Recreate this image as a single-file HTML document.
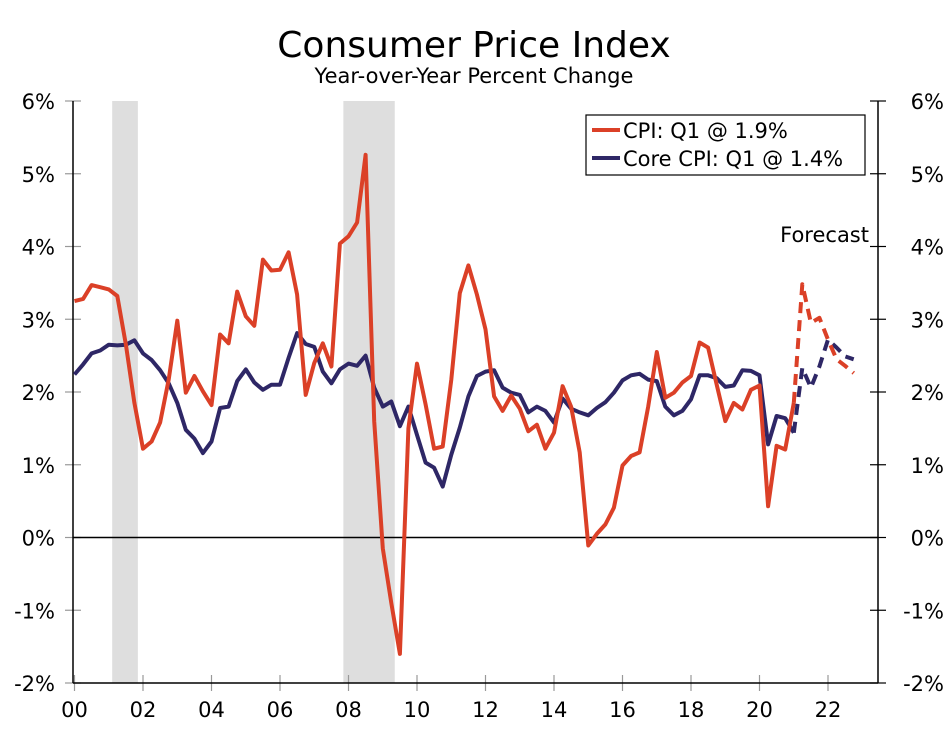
<!DOCTYPE html>
<html><head><meta charset="utf-8"><style>
body{margin:0;background:#fff;}
svg text{font-family:"DejaVu Sans","Liberation Sans",sans-serif;fill:#000;}
</style></head><body>
<svg width="947" height="726" xmlns="http://www.w3.org/2000/svg" id="chart">
<text x="474" y="57" font-size="36" text-anchor="middle">Consumer Price Index</text>
<text x="474" y="83" font-size="21" text-anchor="middle">Year-over-Year Percent Change</text>
<g id="rec"></g>
<g id="axes"></g>
<g id="lines"></g>
<g>
<rect x="586" y="115" width="279" height="60" fill="#fff" stroke="#000" stroke-width="1.2"/>
<line x1="592" y1="130" x2="620" y2="130" stroke="#db4027" stroke-width="4"/>
<text x="623" y="138" font-size="21">CPI: Q1 @ 1.9%</text>
<line x1="592" y1="158" x2="620" y2="158" stroke="#2e2766" stroke-width="4"/>
<text x="623" y="166" font-size="21">Core CPI: Q1 @ 1.4%</text>
</g>
<text x="869" y="242" font-size="21" text-anchor="end">Forecast</text>
</svg>
<script>
const cpi=[3.25,3.28,3.47,3.44,3.41,3.32,2.65,1.85,1.22,1.32,1.58,2.17,2.98,1.99,2.22,2.01,1.82,2.79,2.67,3.38,3.04,2.91,3.82,3.67,3.68,3.92,3.34,1.96,2.40,2.67,2.35,4.04,4.14,4.33,5.26,1.6,-0.15,-0.9,-1.6,1.5,2.39,1.83,1.22,1.25,2.17,3.36,3.74,3.34,2.86,1.94,1.74,1.95,1.77,1.46,1.55,1.22,1.44,2.08,1.80,1.17,-0.11,0.05,0.18,0.41,0.99,1.12,1.17,1.80,2.55,1.92,1.99,2.13,2.22,2.68,2.61,2.10,1.60,1.85,1.76,2.03,2.09,0.43,1.26,1.21,1.85];
const cpiFc=[1.85,3.48,2.95,3.02,2.72,2.45,2.36,2.26];
const core=[2.24,2.38,2.53,2.57,2.65,2.64,2.65,2.71,2.53,2.44,2.30,2.12,1.85,1.48,1.36,1.16,1.32,1.78,1.80,2.15,2.31,2.13,2.03,2.10,2.10,2.47,2.81,2.66,2.62,2.28,2.12,2.31,2.39,2.36,2.50,2.06,1.80,1.87,1.53,1.80,1.41,1.03,0.96,0.70,1.14,1.51,1.94,2.22,2.28,2.30,2.06,1.99,1.96,1.72,1.80,1.74,1.58,1.91,1.77,1.72,1.68,1.78,1.86,1.99,2.16,2.23,2.25,2.17,2.15,1.80,1.68,1.74,1.90,2.23,2.23,2.19,2.07,2.09,2.30,2.29,2.23,1.28,1.67,1.64,1.44];
const coreFc=[1.44,2.33,2.06,2.35,2.72,2.61,2.49,2.45];
const yTicks=[6,5,4,3,2,1,0,-1,-2];
const xLabels=["00","02","04","06","08","10","12","14","16","18","20","22"];
const recessions=[[2001.1,2001.85],[2007.85,2009.35]];
const NS="http://www.w3.org/2000/svg";
const X0=74.5,YR=34.25,L=73,R=878,T=101,B=683;
const xs=t=>X0+(t-2000)*YR;
const ys=v=>T+(6-v)*(B-T)/8;
const qx=i=>xs(2000+i*0.25);
function mk(tag,attrs,parent){const e=document.createElementNS(NS,tag);for(const k in attrs)e.setAttribute(k,attrs[k]);parent.appendChild(e);return e;}
const rec=document.getElementById('rec'),ax=document.getElementById('axes'),ln=document.getElementById('lines');
recessions.forEach(r=>{const e=mk('rect',{x:xs(r[0]),y:T,width:xs(r[1])-xs(r[0]),height:B-T,fill:'#dedede'},rec);

});
yTicks.forEach(v=>{const y=ys(v);
const a=mk('line',{x1:L-8,x2:L+8,y1:y,y2:y,stroke:'#999','stroke-width':1.2},ax);


const b=mk('line',{x1:R-8,x2:R+8,y1:y,y2:y,stroke:'#000','stroke-width':1.2},ax);


const t1=mk('text',{x:55,y:y+8,'font-size':21,'text-anchor':'end'},ax);t1.textContent=v+'%';


const t2=mk('text',{x:944,y:y+8,'font-size':21,'text-anchor':'end'},ax);t2.textContent=v+'%';

});
xLabels.forEach((s,i)=>{const x=xs(2000+i*2);
const a=mk('line',{x1:x,x2:x,y1:B-8,y2:B+8,stroke:'#999','stroke-width':1.2},ax);


const t=mk('text',{x:x,y:B+34,'font-size':21,'text-anchor':'middle'},ax);t.textContent=s;

});
[[L,T,L,B],[R,T,R,B],[L,B,R,B],[L,ys(0),R,ys(0)]].forEach(c=>{const e=mk('line',{x1:c[0],y1:c[1],x2:c[2],y2:c[3],stroke:'#000','stroke-width':1.5},ax);

});
function path(arr,off,color,dash,name){const d=arr.map((v,i)=>(i?'L':'M')+qx(i+off).toFixed(1)+','+ys(v).toFixed(1)).join('');
const p=mk('path',{d:d,fill:'none',stroke:color,'stroke-width':4,'stroke-linejoin':'round'},ln);
if(dash)p.setAttribute('stroke-dasharray','11,7');

}
path(core,0,'#2e2766',false,'core-cpi-line');
path(cpi,0,'#db4027',false,'cpi-line');
path(coreFc,core.length-1,'#2e2766',true,'core-cpi-forecast-line');
path(cpiFc,cpi.length-1,'#db4027',true,'cpi-forecast-line');
</script>
</body></html>
